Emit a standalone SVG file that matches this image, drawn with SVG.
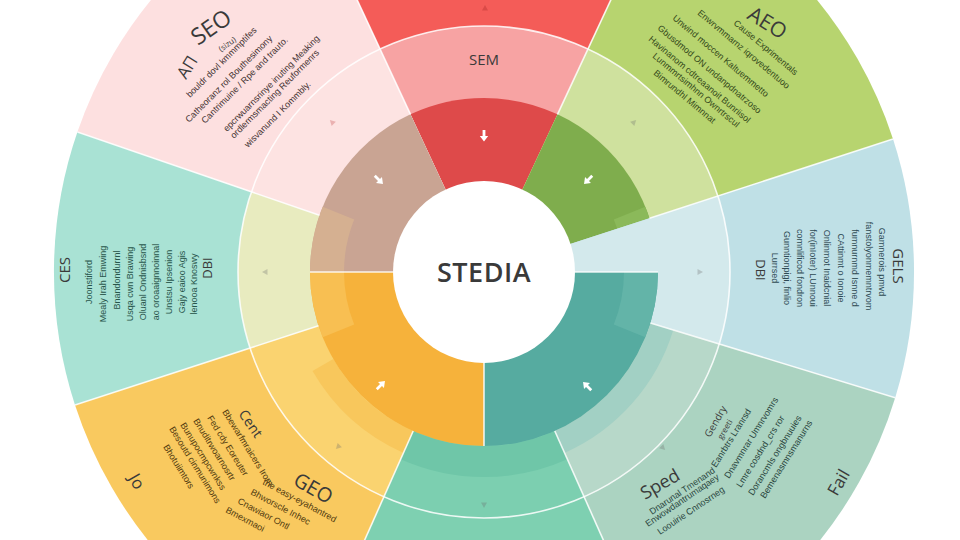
<svg xmlns="http://www.w3.org/2000/svg" width="960" height="540" viewBox="0 0 960 540">
<style>
.lbl{font-family:"Open Sans","Liberation Sans",sans-serif;fill:#3a3a3a}
.body{font-family:"Liberation Sans",sans-serif;font-size:9px}
.sep{stroke:#ffffff;stroke-width:1.6;fill:none;opacity:0.85}
.arr{fill:#ffffff}
.tri{fill:#6a6a6a;opacity:0.3}
</style>
<defs>
<path id="arrow" d="M-1.4,-6 H1.4 V0 H4.2 L0,5.6 L-4.2,0 H-1.4 Z"/>
<path id="tick" d="M-3,-2.5 L3,-2.5 L0,3 Z"/>
</defs>
<rect width="960" height="540" fill="#ffffff"/>

<g id="sector-sem">
<path d="M484 272 L302.3 -117.7 A430 430 0 0 1 665.7 -117.7 Z" fill="#f45c58"/>
<path d="M484 272 L380 49.1 A246 246 0 0 1 588 49.1 Z" fill="#f7a3a3"/>
<path d="M484 272 L410.5 114.3 A174 174 0 0 1 557.5 114.3 Z" fill="#de4a4a"/>
<text class="lbl" x="484" y="65" font-size="15" text-anchor="middle" fill="#5a2e2e">SEM</text>
</g>

<g id="sector-aeo">
<path d="M484 272 L665.7 -117.7 A430 430 0 0 1 893 139.1 Z" fill="#b7d46f"/>
<path d="M484 272 L588 49.1 A246 246 0 0 1 718 196 Z" fill="#cfe19e"/>
<path d="M484 272 L557.5 114.3 A174 174 0 0 1 658 272 Z" fill="#7fad4d"/>
<path d="M645.3 206.8 A174 174 0 0 1 658 272 L624 272 A140 140 0 0 0 613.8 219.6 Z" fill="#8bb95a"/>
<text class="lbl" x="746" y="18" font-size="21" transform="rotate(32 746 18)">AEO</text>
<g class="body" fill="#34491a">
<text x="733" y="24" transform="rotate(40 733 24)">Cause  Exprimentals</text>
<text x="697" y="14" transform="rotate(40 697 14)">Enwrvmmarnz iqrovedentuoo</text>
<text x="672" y="19" transform="rotate(40 672 19)">Unwind moccen Kaltuemmetto</text>
<text x="657" y="29" transform="rotate(40 657 29)">Gbusdmod ON undanpdnatrzoso</text>
<text x="648" y="40" transform="rotate(40 648 40)">Havinanom cdtreaanoit Bunriisol</text>
<text x="652" y="57" transform="rotate(40 652 57)">Lunmmrtsimhnn Ownrtrscul</text>
<text x="653" y="74" transform="rotate(40 653 74)">Bimrundhl Mimnnat</text>
</g>
</g>

<g id="sector-ges-right">
<path d="M484 272 L893 139.1 A430 430 0 0 1 895.2 397.7 Z" fill="#bfe0e6"/>
<path d="M484 272 L718 196 A246 246 0 0 1 719.2 343.9 Z" fill="#d3e9ec"/>
<text class="lbl" x="893" y="266" font-size="15" text-anchor="middle" transform="rotate(90 893 266)">GELS</text>
<text class="lbl" x="756" y="270" font-size="13" text-anchor="middle" transform="rotate(90 756 270)">DBI</text>
<g class="body" fill="#2e4a54" text-anchor="middle">
<text x="772" y="268" transform="rotate(90 772 268)">Lurrsed</text>
<text x="784" y="268" transform="rotate(90 784 268)">Gunntionpigi, finlio</text>
<text x="797" y="268" transform="rotate(90 797 268)">comnlificod fondron</text>
<text x="810" y="268" transform="rotate(90 810 268)">for(inIoter) LUnnoui</text>
<text x="824" y="268" transform="rotate(90 824 268)">Onlinmot Inaidcnial</text>
<text x="838" y="268" transform="rotate(90 838 268)">CAttinmt o Ionoie</text>
<text x="852" y="268" transform="rotate(90 852 268)">fumnurnmd Isnne d</text>
<text x="866" y="266" transform="rotate(90 866 266)">fanstolyonmemntrvom</text>
<text x="879" y="262" transform="rotate(90 879 262)">Gamnerois pmvd</text>
</g>
</g>

<g id="sector-fail">
<path d="M484 272 L895.2 397.7 A430 430 0 0 1 658.9 664.8 Z" fill="#abd3c1"/>
<path d="M484 272 L719.2 343.9 A246 246 0 0 1 584 496.7 Z" fill="#b7d8c9"/>
<path d="M673.3 329.9 A198 198 0 0 1 564.5 452.9 L554.8 431 A174 174 0 0 0 650.4 322.9 Z" fill="#a2d0c4"/>
<text class="lbl" x="645" y="500" font-size="18" transform="rotate(-30 645 500)">Sped</text>
<text class="lbl" x="837" y="497" font-size="17" transform="rotate(-60 837 497)">Fail</text>
<text class="lbl" x="710" y="438" font-size="10" transform="rotate(-60 710 438)">Gendry</text>
<text class="lbl" x="722" y="440" font-size="8" transform="rotate(-60 722 440)">greeti</text>
<g class="body" fill="#2a463e">
<text x="716" y="468" transform="rotate(-58 716 468)">Eanrbtrs Lranrsd</text>
<text x="729" y="479" transform="rotate(-58 729 479)">Dnavmnrar Umnrvomrs</text>
<text x="741" y="488" transform="rotate(-58 741 488)">Lmre cosdnd_crs ror</text>
<text x="753" y="496" transform="rotate(-58 753 496)">Dorancmls ongbnuuies</text>
<text x="765" y="499" transform="rotate(-58 765 499)">Bemenasmnsmanurns</text>
<text x="652" y="515" transform="rotate(-34 652 515)">Dnarunal Tmenand</text>
<text x="648" y="527" transform="rotate(-34 648 527)">Enwowdantrumaqaey</text>
<text x="660" y="535" transform="rotate(-34 660 535)">Loouirie Cnnosrneg</text>
</g>
</g>

<g id="sector-mint">
<path d="M484 272 L658.9 664.8 A430 430 0 0 1 309.1 664.8 Z" fill="#7ed0b1"/>
<path d="M484 272 L584 496.7 A246 246 0 0 1 384 496.7 Z" fill="#7ccfb0"/>
<path d="M567.4 459.3 A205 205 0 0 1 400.6 459.3 L413.2 431 A174 174 0 0 0 554.8 431 Z" fill="#6fc6a8"/>
</g>

<g id="sector-geo">
<path d="M484 272 L309.1 664.8 A430 430 0 0 1 75 404.9 Z" fill="#f9c95f"/>
<path d="M484 272 L384 496.7 A246 246 0 0 1 250 348 Z" fill="#fad370"/>
<path d="M403.5 452.9 A198 198 0 0 1 312.5 371 L333.3 359 A174 174 0 0 0 413.2 431 Z" fill="#f8c75c"/>
<text class="lbl" x="292" y="484" font-size="20" transform="rotate(30 292 484)">GEO</text>
<text class="lbl" x="238" y="414" font-size="14" transform="rotate(55 238 414)">Cent</text>
<text class="lbl" x="128" y="478" font-size="17" transform="rotate(60 128 478)">Jo</text>
<g class="body" fill="#523b0f">
<text x="222" y="412" transform="rotate(58 222 412)">Bbewarfmraicers Irom</text>
<text x="207" y="418" transform="rotate(58 207 418)">Fed cdy Eoreuter</text>
<text x="193" y="421" transform="rotate(58 193 421)">Bnuditrwoarnosrtr</text>
<text x="180" y="425" transform="rotate(58 180 425)">Bunupocmpcwnkss</text>
<text x="169" y="429" transform="rotate(58 169 429)">Besoutd cinmunimons</text>
<text x="163" y="447" transform="rotate(58 163 447)">Bhotuiimtors</text>
<text x="262" y="484" transform="rotate(28 262 484)">the easy-eyahantred</text>
<text x="250" y="494" transform="rotate(28 250 494)">Bhworscle Inhec</text>
<text x="237" y="503" transform="rotate(28 237 503)">Cnawiaor Ontl</text>
<text x="225" y="512" transform="rotate(28 225 512)">Bmexmaoi</text>
</g>
</g>

<g id="sector-ces">
<path d="M484 272 L75 404.9 A430 430 0 0 1 77.4 132 Z" fill="#a9e2d4"/>
<path d="M484 272 L250 348 A246 246 0 0 1 251.4 191.9 Z" fill="#e8ebbf"/>
<text class="lbl" x="70" y="270" font-size="15" text-anchor="middle" transform="rotate(-90 70 270)">CES</text>
<text class="lbl" x="212" y="268" font-size="13" text-anchor="middle" transform="rotate(-90 212 268)">DBI</text>
<g class="body" fill="#28554b" text-anchor="middle">
<text x="92" y="282" transform="rotate(-90 92 282)">Joonstiford</text>
<text x="106" y="284" transform="rotate(-90 106 284)">Mealy Irah Emwing</text>
<text x="120" y="280" transform="rotate(-90 120 280)">Bnandondurrnl</text>
<text x="133" y="284" transform="rotate(-90 133 284)">Usqa cwn Brawing</text>
<text x="146" y="282" transform="rotate(-90 146 282)">Oluanl Ondnisbsnd</text>
<text x="159" y="282" transform="rotate(-90 159 282)">ao oroaaignnoinnal</text>
<text x="172" y="282" transform="rotate(-90 172 282)">Unstsu Ipsenion</text>
<text x="185" y="282" transform="rotate(-90 185 282)">Gajy eaioo Agis</text>
<text x="197" y="284" transform="rotate(-90 197 284)">lenooa Knoswy</text>
</g>
</g>

<g id="sector-seo">
<path d="M484 272 L77.4 132 A430 430 0 0 1 302.3 -117.7 Z" fill="#fde0e0"/>
<path d="M484 272 L251.4 191.9 A246 246 0 0 1 380 49.1 Z" fill="#fde3e2"/>
<text class="lbl" x="198" y="46" font-size="23" transform="rotate(-35 198 46)">SEO</text>
<text class="lbl" x="186" y="80" font-size="17" transform="rotate(-58 186 80)">AΠ</text>
<text class="lbl" x="221" y="52" font-size="8" transform="rotate(-35 221 52)">(sizu)</text>
<g class="body" fill="#443232">
<text x="190" y="98" transform="rotate(-45 190 98)">bouldr dovl kmmmptifes</text>
<text x="189" y="123" transform="rotate(-45 189 123)">Catheoranz rol Bouthesimony</text>
<text x="205" y="124" transform="rotate(-45 205 124)">Cantrimuine / Rpe and trauto.</text>
<text x="227" y="132" transform="rotate(-45 227 132)">epcrwuarnsrinye inuting Meaking</text>
<text x="234" y="139" transform="rotate(-45 234 139)">ordlermsmacting Reuformenrs</text>
<text x="248" y="148" transform="rotate(-45 248 148)">wisvanund I Kommbly.</text>
</g>
</g>

<g id="inner-ring">
<path d="M484 272 L658 272 A174 174 0 0 1 484 446 Z" fill="#56aba0"/>
<path d="M658 272 A174 174 0 0 1 645.3 337.2 L613.8 324.4 A140 140 0 0 0 624 272 Z" fill="#63b4a8"/>
<path d="M484 272 L484 446 A174 174 0 0 1 310 272 Z" fill="#f6b23b"/>
<path d="M322.7 337.2 A174 174 0 0 1 310 272 L344 272 A140 140 0 0 0 354.2 324.4 Z" fill="#f8bf52"/>
<path d="M484 272 L310 272 A174 174 0 0 1 410.5 114.3 Z" fill="#c9a493"/>
<path d="M310 272 A174 174 0 0 1 322.7 206.8 L354.2 219.6 A140 140 0 0 0 344 272 Z" fill="#d5b091"/>
</g>

<g id="separators">
<circle cx="484" cy="272" r="246" class="sep" stroke-width="2"/>
<line class="sep" x1="410.5" y1="114.3" x2="302.3" y2="-117.7"/>
<line class="sep" x1="557.5" y1="114.3" x2="665.7" y2="-117.7"/>
<line class="sep" x1="649.5" y1="218.2" x2="893" y2="139.1"/>
<line class="sep" x1="650.4" y1="322.9" x2="895.2" y2="397.7"/>
<line class="sep" x1="554.8" y1="431" x2="658.9" y2="664.8"/>
<line class="sep" x1="413.2" y1="431" x2="309.1" y2="664.8"/>
<line class="sep" x1="318.5" y1="325.8" x2="75" y2="404.9"/>
<line class="sep" x1="319.5" y1="215.3" x2="77.4" y2="132"/>
<line class="sep" x1="575" y1="272" x2="658" y2="272"/>
<line class="sep" x1="484" y1="363" x2="484" y2="446"/>
<line class="sep" x1="393" y1="272" x2="310" y2="272" opacity="0.4"/>
</g>

<g id="center">
<circle cx="484" cy="272" r="91" fill="#ffffff"/>
<text class="lbl" x="484" y="282" font-size="27" font-weight="600" text-anchor="middle" fill="#40464a" letter-spacing="0.5">STEDIA</text>
</g>

<g id="connectors">
<use href="#arrow" class="arr" transform="translate(379 180) rotate(-45)"/>
<use href="#arrow" class="arr" transform="translate(484 136)"/>
<use href="#arrow" class="arr" transform="translate(588 180) rotate(45)"/>
<use href="#arrow" class="arr" transform="translate(381 385) rotate(225)"/>
<use href="#arrow" class="arr" transform="translate(587 386) rotate(135)"/>
<use href="#tick" class="tri" transform="translate(485 8) rotate(180)" style="fill:#a02020"/>
<use href="#tick" class="tri" transform="translate(332 122) rotate(135)" style="fill:#c04040"/>
<use href="#tick" class="tri" transform="translate(634 122) rotate(225)"/>
<use href="#tick" class="tri" transform="translate(265 272) rotate(90)"/>
<use href="#tick" class="tri" transform="translate(700 272) rotate(270)"/>
<use href="#tick" class="tri" transform="translate(338 447) rotate(45)"/>
<use href="#tick" class="tri" transform="translate(663 448) rotate(-45)"/>
<use href="#tick" class="tri" transform="translate(484 505)"/>
</g>
</svg>
